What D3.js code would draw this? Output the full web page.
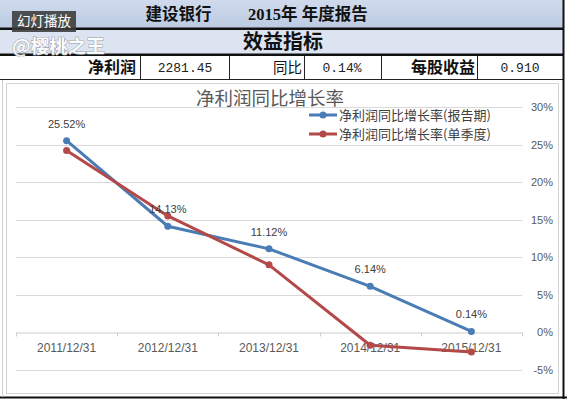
<!DOCTYPE html>
<html><head><meta charset="utf-8">
<script src="https://cdn.jsdelivr.net/npm/d3@7"></script>
<style>
html,body{margin:0;padding:0;background:#fff;}
svg{display:block;}
</style></head>
<body>
<script>
// ---- data ----
const reportTitle = ["建设银行", "2015年 年度报告"];
const sectionTitle = "效益指标";
const summaryLabels = ["净利润", "同比", "每股收益"];
const summaryValues = ["2281.45", "0.14%", "0.910"];
const chartTitle = "净利润同比增长率";
const seriesNames = ["净利润同比增长率(报告期)", "净利润同比增长率(单季度)"];
const categories = ["2011/12/31", "2012/12/31", "2013/12/31", "2014/12/31", "2015/12/31"];
const reportPeriod = [25.52, 14.13, 11.12, 6.14, 0.14];
const singleQuarter = [24.2, 15.5, 9.0, -1.7, -2.6];
const yTicks = [-5, 0, 5, 10, 15, 20, 25, 30];

const W = 567, H = 399;
const cjk = "'Noto Sans CJK SC', 'Noto Sans', sans-serif";
const lat = "'Liberation Sans', 'Noto Sans CJK SC', sans-serif";
const mono = "'Liberation Mono', 'DejaVu Sans Mono', monospace";
const serifB = "'Liberation Serif', 'Noto Sans CJK SC', serif";

const svg = d3.select("body").append("svg").attr("width", W).attr("height", H);
const defs = svg.append("defs");
const g1 = defs.append("linearGradient").attr("id", "hdr").attr("x1", 0).attr("y1", 0).attr("x2", 0).attr("y2", 1);
g1.append("stop").attr("offset", 0).attr("stop-color", "#cfdaec");
g1.append("stop").attr("offset", 1).attr("stop-color", "#bccbe3");

// ---- header ----
svg.append("rect").attr("x", 0).attr("y", 0).attr("width", 563).attr("height", 28).attr("fill", "url(#hdr)");
svg.append("rect").attr("x", 0).attr("y", 30).attr("width", 563).attr("height", 24).attr("fill", "#dde4f1");
svg.append("rect").attr("x", 0).attr("y", 27.5).attr("width", 563).attr("height", 2.5).attr("fill", "#111");
svg.append("rect").attr("x", 0).attr("y", 53.5).attr("width", 563).attr("height", 2.5).attr("fill", "#111");
svg.append("line").attr("x1", 0).attr("x2", 563).attr("y1", 79.5).attr("y2", 79.5).attr("stroke", "#222").attr("stroke-width", 1);

svg.append("text").attr("x", 178.5).attr("y", 20).attr("text-anchor", "middle")
  .attr("font-family", serifB).attr("font-weight", "bold").attr("font-size", 16.5).attr("fill", "#111").text(reportTitle[0]);
svg.append("text").attr("x", 248).attr("y", 20).attr("text-anchor", "start")
  .attr("font-family", serifB).attr("font-weight", "bold").attr("font-size", 16.5).attr("fill", "#111").text(reportTitle[1]);
svg.append("text").attr("x", 283).attr("y", 49).attr("text-anchor", "middle")
  .attr("font-family", cjk).attr("font-weight", "bold").attr("font-size", 20).attr("fill", "#111").text(sectionTitle);

// row 3 cells
const vlines = [140.5, 229.5, 304.5, 381.5, 477.5];
vlines.forEach(x => svg.append("line").attr("x1", x).attr("x2", x).attr("y1", 56).attr("y2", 79.5).attr("stroke", "#222"));
const rowY = 73;
const labelRight = [136, 302, 475];
const labelBold = [true, false, true];
const labelSize = [16, 14.5, 16];
summaryLabels.forEach((t, i) => {
  svg.append("text").attr("x", labelRight[i]).attr("y", rowY).attr("text-anchor", "end")
    .attr("font-family", cjk).attr("font-weight", labelBold[i] ? "bold" : "normal")
    .attr("font-size", labelSize[i]).attr("fill", "#111").text(t);
});
const valueCenter = [185, 342, 520];
summaryValues.forEach((t, i) => {
  svg.append("text").attr("x", valueCenter[i]).attr("y", rowY - 1).attr("text-anchor", "middle")
    .attr("font-family", mono).attr("font-size", 13).attr("fill", "#222").text(t);
});

// outer borders
svg.append("line").attr("x1", 563.5).attr("x2", 563.5).attr("y1", 0).attr("y2", 399).attr("stroke", "#111").attr("stroke-width", 2);
svg.append("line").attr("x1", 0).attr("x2", 567).attr("y1", 397.5).attr("y2", 397.5).attr("stroke", "#111").attr("stroke-width", 2);
svg.append("line").attr("x1", 2.5).attr("x2", 2.5).attr("y1", 80).attr("y2", 397).attr("stroke", "#cfcfcf");

// ---- chart area ----
svg.append("rect").attr("x", 6.5).attr("y", 83.5).attr("width", 552).attr("height", 310)
  .attr("fill", "#fff").attr("stroke", "#d4d4d4");

const x = d3.scaleBand().domain(categories).range([16, 522]).padding(0);
const y = d3.scaleLinear().domain([-5, 30]).range([370, 107]);

// gridlines
svg.append("g").selectAll("line").data(yTicks.filter(v => v !== 0)).join("line")
  .attr("x1", 16).attr("x2", 522).attr("y1", d => Math.round(y(d)) + 0.5).attr("y2", d => Math.round(y(d)) + 0.5)
  .attr("stroke", "#d9d9d9");

// right axis
const yAxis = svg.append("g").attr("transform", "translate(553,0)")
  .call(d3.axisRight(y).tickValues(yTicks).tickSize(0).tickFormat(d => d + "%"));
yAxis.select(".domain").remove();
yAxis.selectAll("text").attr("text-anchor", "end").attr("x", 0)
  .attr("font-family", lat).attr("font-size", 11).attr("fill", "#595959");

// x axis at 0
const y0 = Math.round(y(0)) + 0.5;
const xAxis = svg.append("g").attr("transform", `translate(0,${y0})`)
  .call(d3.axisBottom(x).tickSize(0).tickPadding(11));
xAxis.select(".domain").attr("stroke", "#cdcdcd");
xAxis.selectAll("text").attr("font-family", lat).attr("font-size", 12).attr("fill", "#595959");
const edges = categories.map(c => x(c)).concat([x(categories[categories.length - 1]) + x.bandwidth()]);
svg.append("g").selectAll("line").data(edges).join("line")
  .attr("x1", d => Math.round(d) + 0.5).attr("x2", d => Math.round(d) + 0.5)
  .attr("y1", y0).attr("y2", y0 + 4).attr("stroke", "#cdcdcd");

// lines
const cx = c => x(c) + x.bandwidth() / 2;
const line = d3.line().x((d, i) => cx(categories[i])).y(d => y(d));
const colors = ["#4a7db5", "#b4494a"];
[reportPeriod, singleQuarter].forEach((s, k) => {
  svg.append("path").datum(s).attr("d", line).attr("fill", "none")
    .attr("stroke", colors[k]).attr("stroke-width", 3).attr("stroke-linejoin", "round");
});
[singleQuarter, reportPeriod].forEach((s, k) => {
  const col = k === 0 ? colors[1] : colors[0];
  svg.append("g").selectAll("circle").data(s).join("circle")
    .attr("cx", (d, i) => cx(categories[i])).attr("cy", d => y(d)).attr("r", 3.5).attr("fill", col);
});

// data labels (report period)
svg.append("g").selectAll("text").data(reportPeriod).join("text")
  .attr("x", (d, i) => cx(categories[i])).attr("y", d => y(d) - 13)
  .attr("text-anchor", "middle").attr("font-family", lat).attr("font-size", 11).attr("fill", "#404040")
  .text(d => d.toFixed(2) + "%");

// title
svg.append("text").attr("x", 270).attr("y", 105).attr("text-anchor", "middle")
  .attr("font-family", cjk).attr("font-size", 18.5).attr("fill", "#595959").text(chartTitle);

// legend
const legY = [115, 134];
seriesNames.forEach((n, k) => {
  svg.append("line").attr("x1", 309).attr("x2", 337).attr("y1", legY[k]).attr("y2", legY[k])
    .attr("stroke", colors[k]).attr("stroke-width", 3);
  svg.append("circle").attr("cx", 323).attr("cy", legY[k]).attr("r", 3.5).attr("fill", colors[k]);
  svg.append("text").attr("x", 339).attr("y", legY[k] + 4.5).attr("font-family", cjk)
    .attr("font-size", 13).attr("fill", "#404040").text(n);
});

// watermarks
svg.append("rect").attr("x", 12).attr("y", 11).attr("width", 64).attr("height", 21).attr("fill", "#3a3a3a").attr("opacity", 0.88);
svg.append("text").attr("x", 44).attr("y", 26).attr("text-anchor", "middle").attr("font-family", cjk)
  .attr("font-size", 13.5).attr("fill", "#fff").text("幻灯播放");
svg.append("text").attr("x", 12).attr("y", 53).attr("font-family", cjk).attr("font-weight", "bold")
  .attr("font-size", 18.5).attr("fill", "#fff").attr("stroke", "#8e959e").attr("stroke-width", 1)
  .attr("paint-order", "stroke").attr("opacity", 0.9).text("@樱桃之王");
</script>
</body></html>
